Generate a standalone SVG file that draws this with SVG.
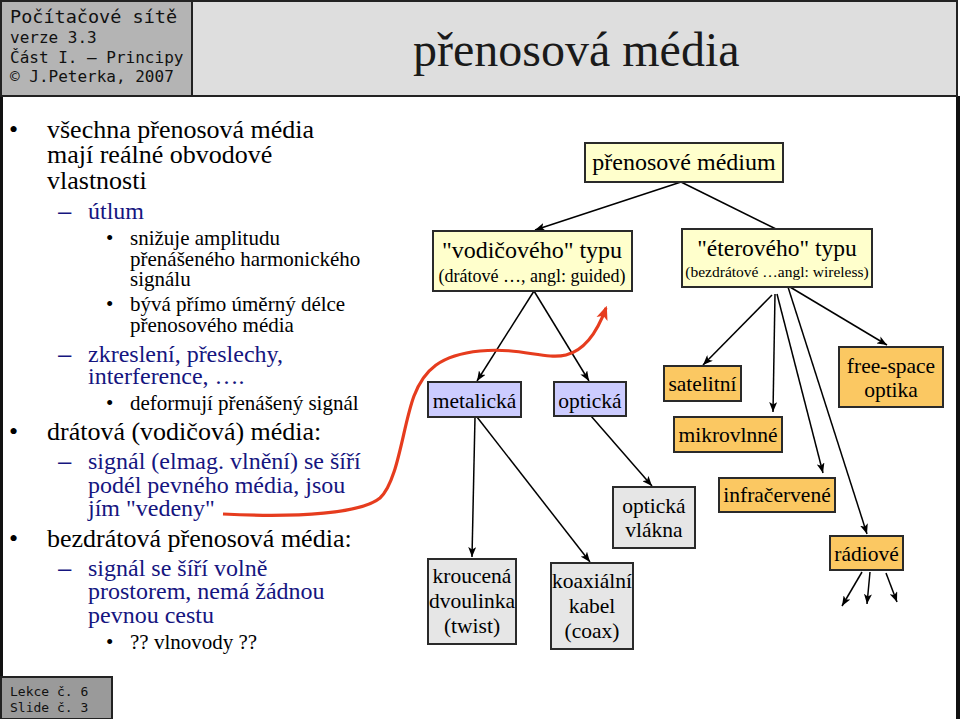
<svg xmlns="http://www.w3.org/2000/svg" width="960" height="719" viewBox="0 0 960 719">
<defs>
<style>
.serif{font-family:"Liberation Serif","Times New Roman",serif}
.mono{font-family:"DejaVu Sans Mono","Liberation Mono",monospace;fill:#111}
.l1{font-family:"Liberation Serif",serif;font-size:26px;fill:#000}
.l2{font-family:"Liberation Serif",serif;font-size:24px;fill:#15157f}
.l3{font-family:"Liberation Serif",serif;font-size:21px;fill:#000}
.dash{font-family:"Liberation Sans",sans-serif;font-size:24px;fill:#15157f}
.box{stroke:#2a2a2a;stroke-width:2}
.yel{fill:#ffffcc}
.lav{fill:#ccccff}
.org{fill:#fbc862}
.gry{fill:#e6e6e6}
.nt{font-family:"Liberation Serif",serif;font-size:21.5px;fill:#000;text-anchor:middle}
.conn{stroke:#000;stroke-width:1.5;fill:none}
</style>
<marker id="arr" viewBox="0 0 10 8" refX="10" refY="4" markerWidth="10" markerHeight="8" markerUnits="userSpaceOnUse" orient="auto">
<path d="M0,0 L10,4 L0,8 L2.5,4 z" fill="#000"/>
</marker>
<marker id="rarr" viewBox="0 0 12 10" refX="10" refY="5" markerWidth="14" markerHeight="12" markerUnits="userSpaceOnUse" orient="auto">
<path d="M0,0 L12,5 L0,10 L3,5 z" fill="#e63c1e"/>
</marker>
</defs>

<rect x="0" y="0" width="960" height="719" fill="#fff"/>
<!-- body borders -->
<rect x="0" y="96" width="3" height="623" fill="#111"/>
<rect x="956" y="96" width="4" height="623" fill="#111"/>

<!-- header -->
<g id="header">
<rect x="1" y="1" width="191" height="95" fill="#b4b4b4" stroke="#222" stroke-width="2"/>
<rect x="192" y="1" width="765" height="95" fill="#dedede" stroke="#222" stroke-width="2"/>
<text class="mono" x="10" y="23" font-size="18.5">Počítačové sítě</text>
<text class="mono" x="10" y="43" font-size="16">verze 3.3</text>
<text class="mono" x="10" y="63" font-size="16">Část I. – Principy</text>
<text class="mono" x="10" y="82" font-size="16">© J.Peterka, 2007</text>
<text class="serif" x="413" y="66" font-size="48" fill="#1a1a1a">přenosová média</text>
</g>

<!-- footer -->
<g id="footer">
<rect x="1" y="677" width="111" height="42" fill="#9a9a9a" stroke="#222" stroke-width="2"/>
<text class="mono" x="10" y="696" font-size="13">Lekce č. 6</text>
<text class="mono" x="10" y="712" font-size="13">Slide č. 3</text>
</g>

<!-- left text -->
<g id="bullets">
<text class="l1" x="9" y="138">•</text>
<text class="l1" x="47" y="138">všechna přenosová média</text>
<text class="l1" x="47" y="163">mají reálné obvodové</text>
<text class="l1" x="47" y="189">vlastnosti</text>
<text class="dash" x="58" y="219">–</text>
<text class="l2" x="88" y="219">útlum</text>
<text class="l3" x="106" y="245">•</text>
<text class="l3" x="130" y="245">snižuje amplitudu</text>
<text class="l3" x="130" y="266">přenášeného harmonického</text>
<text class="l3" x="130" y="286">signálu</text>
<text class="l3" x="106" y="311">•</text>
<text class="l3" x="130" y="311">bývá přímo úměrný délce</text>
<text class="l3" x="130" y="332">přenosového média</text>
<text class="dash" x="58" y="362">–</text>
<text class="l2" x="88" y="362">zkreslení, přeslechy,</text>
<text class="l2" x="88" y="384">interference, ….</text>
<text class="l3" x="106" y="410">•</text>
<text class="l3" x="130" y="410">deformují přenášený signál</text>
<text class="l1" x="9" y="440">•</text>
<text class="l1" x="47" y="440">drátová (vodičová) média:</text>
<text class="dash" x="58" y="469">–</text>
<text class="l2" x="88" y="469">signál (elmag. vlnění) se šíří</text>
<text class="l2" x="88" y="493">podél pevného média, jsou</text>
<text class="l2" x="88" y="516">jím "vedeny"</text>
<text class="l1" x="9" y="547">•</text>
<text class="l1" x="47" y="547">bezdrátová přenosová média:</text>
<text class="dash" x="58" y="576">–</text>
<text class="l2" x="88" y="576">signál se šíří volně</text>
<text class="l2" x="88" y="599">prostorem, nemá žádnou</text>
<text class="l2" x="88" y="623">pevnou cestu</text>
<text class="l3" x="106" y="649">•</text>
<text class="l3" x="130" y="649">?? vlnovody ??</text>
</g>

<!-- connectors -->
<g id="connectors">
<line class="conn" x1="681" y1="182" x2="535" y2="230" marker-end="url(#arr)"/>
<line class="conn" x1="681" y1="182" x2="776" y2="229"/>
<line class="conn" x1="534" y1="291" x2="477" y2="381" marker-end="url(#arr)"/>
<line class="conn" x1="534" y1="291" x2="589" y2="381" marker-end="url(#arr)"/>
<line class="conn" x1="475" y1="417" x2="472" y2="557" marker-end="url(#arr)"/>
<line class="conn" x1="477" y1="417" x2="590" y2="562" marker-end="url(#arr)"/>
<line class="conn" x1="591" y1="416" x2="652" y2="486" marker-end="url(#arr)"/>
<line class="conn" x1="772" y1="295" x2="703" y2="365" marker-end="url(#arr)"/>
<line class="conn" x1="775" y1="294" x2="773" y2="412" marker-end="url(#arr)"/>
<line class="conn" x1="777" y1="294" x2="823" y2="473" marker-end="url(#arr)"/>
<line class="conn" x1="788" y1="287" x2="867" y2="534" marker-end="url(#arr)"/>
<line class="conn" x1="790" y1="287" x2="887" y2="345" marker-end="url(#arr)"/>
<line class="conn" x1="862" y1="572" x2="842" y2="606" marker-end="url(#arr)"/>
<line class="conn" x1="870" y1="572" x2="867" y2="604" marker-end="url(#arr)"/>
<line class="conn" x1="886" y1="573" x2="897" y2="602" marker-end="url(#arr)"/>
<path d="M223,514 C300,518 362,513 380,498 C398,482 403,425 414,396 C424,370 440,355 480,351 C520,347 545,360 566,355 C586,350 598,330 606,308" fill="none" stroke="#e63c1e" stroke-width="3.2" marker-end="url(#rarr)"/>
</g>

<!-- nodes -->
<g id="n-medium">
<rect class="box yel" x="585" y="143" width="198" height="39"/>
<text class="serif" x="684" y="170" font-size="24" text-anchor="middle">přenosové médium</text>
</g>
<g id="n-vodic">
<rect class="box yel" x="433" y="231" width="199" height="60"/>
<text class="serif" x="532" y="258" font-size="24" text-anchor="middle">"vodičového" typu</text>
<text class="serif" x="532" y="282" font-size="18" text-anchor="middle">(drátové …, angl: guided)</text>
</g>
<g id="n-eter">
<rect class="box yel" x="682" y="229" width="190" height="58"/>
<text class="serif" x="777" y="256" font-size="23.5" text-anchor="middle">"éterového" typu</text>
<text class="serif" x="777" y="277" font-size="15.5" text-anchor="middle">(bezdrátové …angl: wireless)</text>
</g>
<g id="n-metal">
<rect class="box lav" x="428" y="382" width="93" height="35"/>
<text class="nt" x="474.5" y="408">metalická</text>
</g>
<g id="n-opt">
<rect class="box lav" x="554" y="382" width="72" height="34"/>
<text class="nt" x="590" y="408">optická</text>
</g>
<g id="n-sat">
<rect class="box org" x="664" y="366" width="77" height="35"/>
<text class="nt" x="702.5" y="391">satelitní</text>
</g>
<g id="n-mikro">
<rect class="box org" x="674" y="417" width="108" height="35"/>
<text class="nt" x="728" y="442">mikrovlnné</text>
</g>
<g id="n-free">
<rect class="box org" x="839" y="347" width="104" height="60"/>
<text class="nt" x="891" y="373">free-space</text>
<text class="nt" x="891" y="397">optika</text>
</g>
<g id="n-ir">
<rect class="box org" x="719" y="478" width="116" height="34"/>
<text class="nt" x="777" y="502">infračervené</text>
</g>
<g id="n-radio">
<rect class="box org" x="830" y="536" width="73" height="34"/>
<text class="nt" x="866.5" y="561">rádiové</text>
</g>
<g id="n-vlakna">
<rect class="box gry" x="613" y="487" width="82" height="61"/>
<text class="nt" x="654" y="513">optická</text>
<text class="nt" x="654" y="537">vlákna</text>
</g>
<g id="n-twist">
<rect class="box gry" x="428" y="559" width="88" height="85"/>
<text class="nt" x="472" y="583">kroucená</text>
<text class="nt" x="472" y="608">dvoulinka</text>
<text class="nt" x="472" y="633">(twist)</text>
</g>
<g id="n-coax">
<rect class="box gry" x="551" y="563" width="82" height="86"/>
<text class="nt" x="592" y="588">koaxiální</text>
<text class="nt" x="592" y="613">kabel</text>
<text class="nt" x="592" y="638">(coax)</text>
</g>
</svg>
